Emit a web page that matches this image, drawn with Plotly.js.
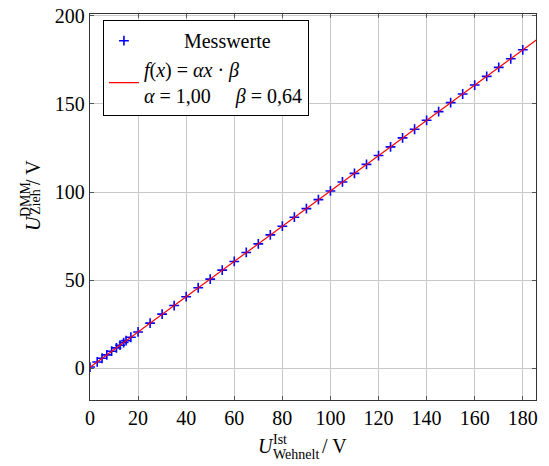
<!DOCTYPE html>
<html>
<head>
<meta charset="utf-8">
<script src="https://cdn.plot.ly/plotly-3.0.1.min.js"></script>
<style>html,body{margin:0;padding:0;background:#fff;}#chart{width:549px;height:466px;}</style>
</head>
<body>
<div id="chart"></div>
<script>
// Measured values
const uIst = [0, 3, 5, 7, 9, 11, 12.5, 14, 15, 17, 20, 25, 30, 35, 40, 45, 50, 55, 60, 65, 70, 75, 80, 85, 90, 95, 100, 105, 110, 115, 120, 125, 130, 135, 140, 145, 150, 155, 160, 165, 170, 175, 180];
const uDmm = [0.7, 3.6, 5.7, 7.6, 9.7, 11.6, 13.1, 14.6, 15.7, 17.6, 20.6, 25.6, 30.7, 35.6, 40.6, 45.7, 50.6, 55.7, 60.6, 65.7, 70.6, 75.7, 80.6, 85.7, 90.6, 95.7, 100.6, 105.7, 110.6, 115.7, 120.7, 125.6, 130.7, 135.6, 140.7, 145.6, 150.7, 155.6, 160.7, 165.6, 170.7, 175.6, 180.7];
// Fit line endpoints
const fitX = [0, 186];
const fitY = [0.64, 186.64];
const xTicks = [0, 20, 40, 60, 80, 100, 120, 140, 160, 180];
const yTicks = [0, 50, 100, 150, 200];

const FAM = 'Liberation Serif';
const font = {family: FAM, size: 20, color: '#000'};
const small = {family: FAM, size: 14, color: '#000'};

const NB = n => '&nbsp;'.repeat(n);

const traces = [
  {x: uIst, y: uDmm, type: 'scatter', mode: 'markers', name: NB(8) + 'Messwerte',
   marker: {symbol: 'cross-thin', size: 7, color: 'blue', line: {color: 'blue', width: 1.6}}},
  {x: fitX, y: fitY, type: 'scatter', mode: 'lines',
   name: '<i>f</i>(<i>x</i>) = <i>αx</i> · <i>β</i><br><i>α</i> = 1,00' + NB(5) + '<i>β</i> = 0,64',
   line: {color: 'red', width: 1.2}}
];

const axisCommon = {showline: true, mirror: 'ticks', linecolor: '#333', linewidth: 1.2,
  ticks: 'inside', ticklen: 4, tickcolor: '#555', showgrid: true, gridcolor: '#c8c8c8', gridwidth: 1,
  zeroline: false, tickfont: font};

// paper coordinate helpers for title pieces (plot area: left 90, top 14, width 446, height 386)
const px = v => (v - 90) / 446;
const py = v => (400 - v) / 386;

function piece(text, cx, cy, f, angle) {
  return {xref: 'paper', yref: 'paper', x: px(cx), y: py(cy), xanchor: 'center', yanchor: 'middle',
          showarrow: false, text: text, font: f, textangle: angle || 0, borderpad: 0};
}

const layout = {
  width: 549, height: 466,
  margin: {l: 90, r: 13, t: 14, b: 66},
  paper_bgcolor: '#fff', plot_bgcolor: '#fff',
  font: font,
  showlegend: true,
  legend: {x: 0.029, y: 0.984, xanchor: 'left', yanchor: 'top', bordercolor: '#000', borderwidth: 1,
           bgcolor: '#fff', font: font, tracegroupgap: 0},
  xaxis: Object.assign({}, axisCommon, {range: [0, 185.5], tickvals: xTicks}),
  yaxis: Object.assign({}, axisCommon, {range: [-18, 201], tickvals: yTicks}),
  annotations: [
    piece('<i>U</i>', 266, 446, font),
    piece('Ist', 280, 440, small),
    piece('Wehnelt', 296, 454, small),
    piece('/ V', 334, 446, font),
    piece('<i>U</i>', 33, 223, font, -90),
    piece('DMM', 25, 199, small, -90),
    piece('Zieh', 36, 202, small, -90),
    piece('/ V', 33, 172, font, -90)
  ]
};

Plotly.newPlot('chart', traces, layout, {displayModeBar: false, staticPlot: true});
</script>
</body>
</html>
